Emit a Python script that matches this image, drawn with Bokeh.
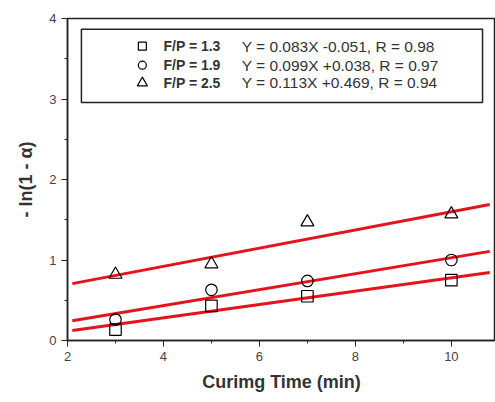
from bokeh.plotting import figure
from bokeh.models import Range1d, BoxAnnotation, SingleIntervalTicker, Label
from bokeh.embed import file_html
from bokeh.resources import INLINE

# data
time_min = [3, 5, 7, 10]
fp13 = [0.135, 0.43, 0.55, 0.75]
fp19 = [0.26, 0.63, 0.74, 1.00]
fp25 = [0.82, 0.95, 1.47, 1.57]

slopes = [0.083, 0.099, 0.113]
intercepts = [-0.051, 0.038, 0.469]
fit_x = [2.1, 10.8]

series_names = ["F/P = 1.3", "F/P = 1.9", "F/P = 2.5"]
equations = ["Y = 0.083X -0.051, R = 0.98",
             "Y = 0.099X +0.038, R = 0.97",
             "Y = 0.113X +0.469, R = 0.94"]
markers = ["square", "circle", "triangle"]

FONT = "Liberation Sans"

p = figure(width=495, height=394, output_backend="svg", toolbar_location=None,
           x_range=Range1d(2, 10.92), y_range=Range1d(0, 4),
           min_border_left=67, min_border_top=18, min_border_bottom=50,
           min_border_right=0)
p.grid.visible = False
p.background_fill_color = "white"
p.border_fill_color = "white"
p.outline_line_color = "#222222"
p.outline_line_width = 1.5
p.outline_line_alpha = 1

for ax in (p.xaxis[0], p.yaxis[0]):
    ax.axis_line_color = "#222222"
    ax.axis_line_width = 1.5
    ax.major_tick_line_color = "#222222"
    ax.minor_tick_line_color = "#222222"
    ax.major_tick_out = 6
    ax.major_tick_in = 0
    ax.minor_tick_out = 3
    ax.minor_tick_in = 0
    ax.major_label_text_font = FONT
    ax.major_label_text_font_size = "13px"
    ax.major_label_text_color = "#444444"
    ax.axis_label_text_font = FONT
    ax.axis_label_text_font_style = "bold"
    ax.axis_label_text_font_size = "18px"
    ax.axis_label_text_color = "#333333"

p.xaxis.ticker = SingleIntervalTicker(interval=2, num_minor_ticks=2)
p.yaxis.ticker = SingleIntervalTicker(interval=1, num_minor_ticks=2)
p.xaxis.axis_label = "Curimg Time (min)"
p.yaxis.axis_label = "- ln(1 - \u03b1)"
p.xaxis.axis_label_standoff = 8
p.yaxis.axis_label_standoff = 10

# legend box (drawn beneath glyphs)
p.add_layout(BoxAnnotation(left=2.29, right=10.65, bottom=2.957, top=3.865,
                           fill_color="white", fill_alpha=1, level="underlay",
                           line_color="#222222", line_alpha=1, line_width=1.5))

# fit lines
for m, b in zip(slopes, intercepts):
    p.line(fit_x, [m * x + b for x in fit_x], line_color="#e3141c", line_width=3)

# data points
for ys, mk in zip([fp13, fp19, fp25], markers):
    sz = 13 if mk == "triangle" else 11.5
    p.scatter(time_min, ys, marker=mk, size=sz, fill_color=None,
              line_color="black", line_width=1.2)

rows_y = [3.656, 3.42, 3.20]
for ry, mk in zip(rows_y, markers):
    sz = 10 if mk == "triangle" else 8
    p.scatter([3.56], [ry], marker=mk, size=sz, fill_color=None,
              line_color="black", line_width=1.2)
for ry, nm, eq in zip(rows_y, series_names, equations):
    p.add_layout(Label(x=4.0, y=ry, text=nm, text_font=FONT, text_font_size="14px",
                       text_font_style="bold", text_baseline="middle",
                       text_color="#333333"))
    p.add_layout(Label(x=5.63, y=ry, text=eq, text_font=FONT, text_font_size="15.5px",
                       text_baseline="middle", text_color="#333333"))

open("out.html", "w").write(file_html(p, INLINE))
